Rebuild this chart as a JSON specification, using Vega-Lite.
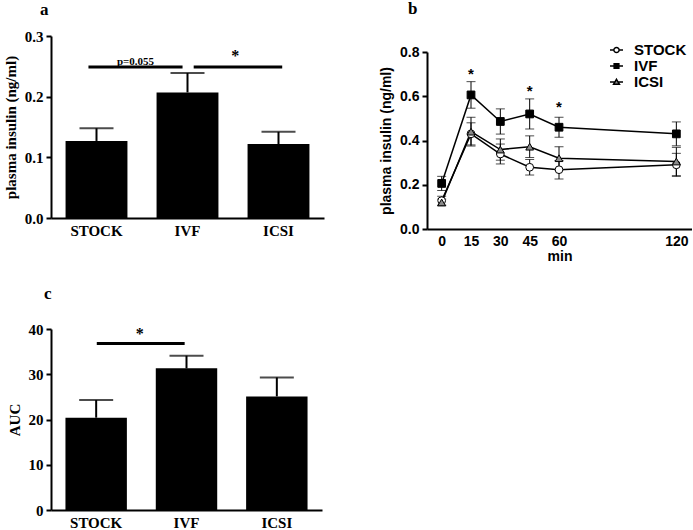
{
  "$schema": "https://vega.github.io/schema/vega-lite/v6.json",
  "padding": {"left": 3, "top": 0, "right": 0, "bottom": 0},
  "background": "white",
  "columns": 2,
  "align": "none",
  "spacing": {"row": 22, "column": 55},
  "resolve": {"legend": {"shape": "independent", "fill": "independent", "stroke": "independent"}},
  "config": {
    "view": {"stroke": null},
    "axis": {"domainColor": "black", "tickColor": "black", "labelColor": "black", "titleColor": "black", "grid": false}
  },
  "concat": [
    {
      "width": 273,
      "height": 182,
      "title": {"text": "a", "anchor": "start", "frame": "group", "font": "Liberation Serif", "fontSize": 17, "fontWeight": "bold", "color": "black", "dx": -11, "offset": 10},
      "layer": [
        {
          "data": {"values": [
            {"group": "STOCK", "mean": 0.127, "hi": 0.148},
            {"group": "IVF", "mean": 0.207, "hi": 0.239},
            {"group": "ICSI", "mean": 0.122, "hi": 0.142}
          ]},
          "layer": [
            {"mark": {"type": "bar", "color": "black"},
             "encoding": {
               "x": {"field": "group", "type": "nominal", "scale": {"domain": ["STOCK", "IVF", "ICSI"], "paddingInner": 0.32, "paddingOuter": 0.16},
                     "axis": {"title": null, "labelAngle": 0, "labelBaseline": "top", "labelAlign": "center", "ticks": false, "labelPadding": 5, "labelFont": "Liberation Serif", "labelFontSize": 15, "labelFontWeight": "bold", "domainWidth": 2}},
               "y": {"field": "mean", "type": "quantitative", "scale": {"domain": [0, 0.3], "nice": false},
                     "axis": {"title": "plasma insulin (ng/ml)", "values": [0, 0.1, 0.2, 0.3], "format": ".1f", "labelFont": "Liberation Serif", "labelFontSize": 15, "labelFontWeight": "bold", "titleFont": "Liberation Serif", "titleFontSize": 15, "titleFontWeight": "bold", "domainWidth": 2, "tickWidth": 2, "tickSize": 5, "labelPadding": 3, "titlePadding": 6}}
             }},
            {"mark": {"type": "rule", "color": "black", "strokeWidth": 2},
             "encoding": {"x": {"field": "group", "type": "nominal"}, "y": {"field": "mean", "type": "quantitative"}, "y2": {"field": "hi"}}},
            {"mark": {"type": "tick", "color": "black", "thickness": 2, "size": 34},
             "encoding": {"x": {"field": "group", "type": "nominal"}, "y": {"field": "hi", "type": "quantitative"}}}
          ]
        },
        {
          "data": {"values": [{"from": "STOCK", "to": "IVF", "y": 0.249}]},
          "mark": {"type": "rule", "color": "black", "strokeWidth": 3},
          "encoding": {"x": {"field": "from", "type": "nominal", "bandPosition": 0.37}, "x2": {"field": "to", "bandPosition": 0.42}, "y": {"field": "y", "type": "quantitative"}}
        },
        {
          "data": {"values": [{"from": "IVF", "to": "ICSI", "y": 0.249}]},
          "mark": {"type": "rule", "color": "black", "strokeWidth": 3},
          "encoding": {"x": {"field": "from", "type": "nominal", "bandPosition": 0.6}, "x2": {"field": "to", "bandPosition": 0.56}, "y": {"field": "y", "type": "quantitative"}}
        },
        {
          "data": {"values": [{"at": "STOCK", "y": 0.253, "label": "p=0.055"}]},
          "mark": {"type": "text", "font": "Liberation Serif", "fontSize": 11, "fontWeight": "bold", "color": "black", "baseline": "alphabetic"},
          "encoding": {"x": {"field": "at", "type": "nominal", "bandPosition": 1.13}, "y": {"field": "y", "type": "quantitative"}, "text": {"field": "label"}}
        },
        {
          "data": {"values": [{"at": "IVF", "y": 0.258, "label": "*"}]},
          "mark": {"type": "text", "font": "Liberation Serif", "fontSize": 16, "fontWeight": "bold", "color": "black", "baseline": "alphabetic"},
          "encoding": {"x": {"field": "at", "type": "nominal", "bandPosition": 1.27}, "y": {"field": "y", "type": "quantitative"}, "text": {"field": "label"}}
        }
      ]
    },
    {
      "width": 265,
      "height": 193,
      "title": {"text": "b", "anchor": "start", "frame": "group", "font": "Liberation Serif", "fontSize": 17, "fontWeight": "bold", "color": "black", "dx": -19, "offset": 18},
      "layer": [
        {
          "data": {"values": [
            {"group": "STOCK", "min": 0, "mean": 0.128, "lo": 0.108, "hi": 0.148},
            {"group": "STOCK", "min": 15, "mean": 0.43, "lo": 0.38, "hi": 0.48},
            {"group": "STOCK", "min": 30, "mean": 0.339, "lo": 0.294, "hi": 0.384},
            {"group": "STOCK", "min": 45, "mean": 0.279, "lo": 0.244, "hi": 0.314},
            {"group": "STOCK", "min": 60, "mean": 0.268, "lo": 0.226, "hi": 0.31},
            {"group": "STOCK", "min": 120, "mean": 0.29, "lo": 0.238, "hi": 0.342},
            {"group": "IVF", "min": 0, "mean": 0.206, "lo": 0.174, "hi": 0.238},
            {"group": "IVF", "min": 15, "mean": 0.606, "lo": 0.546, "hi": 0.666},
            {"group": "IVF", "min": 30, "mean": 0.486, "lo": 0.429, "hi": 0.543},
            {"group": "IVF", "min": 45, "mean": 0.52, "lo": 0.452, "hi": 0.588},
            {"group": "IVF", "min": 60, "mean": 0.46, "lo": 0.415, "hi": 0.505},
            {"group": "IVF", "min": 120, "mean": 0.43, "lo": 0.376, "hi": 0.484},
            {"group": "ICSI", "min": 0, "mean": 0.12, "lo": 0.105, "hi": 0.135},
            {"group": "ICSI", "min": 15, "mean": 0.44, "lo": 0.375, "hi": 0.505},
            {"group": "ICSI", "min": 30, "mean": 0.359, "lo": 0.311, "hi": 0.407},
            {"group": "ICSI", "min": 45, "mean": 0.372, "lo": 0.323, "hi": 0.421},
            {"group": "ICSI", "min": 60, "mean": 0.32, "lo": 0.268, "hi": 0.372},
            {"group": "ICSI", "min": 120, "mean": 0.305, "lo": 0.241, "hi": 0.369}
          ]},
          "layer": [
            {"mark": {"type": "line", "color": "black", "strokeWidth": 1.5},
             "encoding": {
               "x": {"field": "min", "type": "quantitative", "scale": {"domain": [-7.5, 128], "nice": false, "zero": false},
                     "axis": {"title": "min", "values": [0, 15, 30, 45, 60, 120], "ticks": false, "labelPadding": 5, "labelFont": "Liberation Sans", "labelFontSize": 14, "labelFontWeight": "bold", "titleFont": "Liberation Sans", "titleFontSize": 14, "titleFontWeight": "bold", "titlePadding": 1, "domainWidth": 2}},
               "y": {"field": "mean", "type": "quantitative", "scale": {"domain": [0, 0.8], "nice": false, "range": [193, 16]},
                     "axis": {"title": "plasma insulin (ng/ml)", "values": [0, 0.2, 0.4, 0.6, 0.8], "format": ".1f", "labelFont": "Liberation Sans", "labelFontSize": 14, "labelFontWeight": "bold", "titleFont": "Liberation Sans", "titleFontSize": 14, "titleFontWeight": "bold", "domainWidth": 2, "tickWidth": 2, "tickSize": 5, "labelPadding": 3, "titlePadding": 6}},
               "detail": {"field": "group"}
             }},
            {"mark": {"type": "rule", "color": "black", "strokeWidth": 1},
             "encoding": {"x": {"field": "min", "type": "quantitative"}, "y": {"field": "lo", "type": "quantitative"}, "y2": {"field": "hi"}}},
            {"mark": {"type": "tick", "orient": "horizontal", "color": "black", "thickness": 1, "size": 9},
             "encoding": {"x": {"field": "min", "type": "quantitative"}, "y": {"field": "lo", "type": "quantitative"}}},
            {"mark": {"type": "tick", "orient": "horizontal", "color": "black", "thickness": 1, "size": 9},
             "encoding": {"x": {"field": "min", "type": "quantitative"}, "y": {"field": "hi", "type": "quantitative"}}},
            {"transform": [{"filter": {"field": "group", "equal": "STOCK"}}],
             "mark": {"type": "point", "shape": "circle", "filled": true, "fill": "white", "stroke": "black", "strokeWidth": 1, "size": 60, "opacity": 1},
             "encoding": {"x": {"field": "min", "type": "quantitative"}, "y": {"field": "mean", "type": "quantitative"}}},
            {"transform": [{"filter": {"field": "group", "equal": "ICSI"}}],
             "mark": {"type": "point", "shape": "triangle-up", "filled": true, "fill": "#8a8a8a", "stroke": "black", "strokeWidth": 1, "size": 60, "opacity": 1},
             "encoding": {"x": {"field": "min", "type": "quantitative"}, "y": {"field": "mean", "type": "quantitative"}}},
            {"transform": [{"filter": {"field": "group", "equal": "IVF"}}],
             "mark": {"type": "point", "shape": "square", "filled": true, "fill": "black", "stroke": "black", "strokeWidth": 1, "size": 60, "opacity": 1},
             "encoding": {"x": {"field": "min", "type": "quantitative"}, "y": {"field": "mean", "type": "quantitative"}}},
            {"mark": {"type": "point", "filled": true, "strokeWidth": 1.5, "opacity": 0},
             "encoding": {
               "x": {"field": "min", "type": "quantitative"},
               "y": {"field": "mean", "type": "quantitative"},
               "shape": {"field": "group", "type": "nominal",
                         "scale": {"domain": ["STOCK", "IVF", "ICSI"], "range": [
                           "M-1,0H-0.4M0.4,0H1M-0.4,0A0.4,0.4,0,1,1,0.4,0A0.4,0.4,0,1,1,-0.4,0Z",
                           "M-1,0H-0.36M0.36,0H1M-0.36,-0.36H0.36V0.36H-0.36Z",
                           "M-1,0H-0.25M0.25,0H1M0,-0.42L0.45,0.36H-0.45Z"]},
                         "legend": {"orient": "none", "legendX": 182, "legendY": 6, "title": null, "labelFont": "Liberation Sans", "labelFontSize": 15, "labelFontWeight": "bold", "labelColor": "black", "symbolSize": 170, "symbolStrokeWidth": 1.5, "symbolOpacity": 1, "rowPadding": 0, "clipHeight": 16, "padding": 0, "labelOffset": 10}},
               "fill": {"field": "group", "type": "nominal", "scale": {"domain": ["STOCK", "IVF", "ICSI"], "range": ["white", "black", "#8a8a8a"]},
                        "legend": {"orient": "none", "legendX": 182, "legendY": 6, "title": null, "labelFont": "Liberation Sans", "labelFontSize": 15, "labelFontWeight": "bold", "labelColor": "black", "symbolSize": 170, "symbolStrokeWidth": 1.5, "symbolOpacity": 1, "rowPadding": 0, "clipHeight": 16, "padding": 0, "labelOffset": 10}},
               "stroke": {"field": "group", "type": "nominal", "scale": {"domain": ["STOCK", "IVF", "ICSI"], "range": ["black", "black", "black"]},
                          "legend": {"orient": "none", "legendX": 182, "legendY": 6, "title": null, "labelFont": "Liberation Sans", "labelFontSize": 15, "labelFontWeight": "bold", "labelColor": "black", "symbolSize": 170, "symbolStrokeWidth": 1.5, "symbolOpacity": 1, "rowPadding": 0, "clipHeight": 16, "padding": 0, "labelOffset": 10}}
             }}
          ]
        },
        {
          "data": {"values": [{"min": 15, "y": 0.68}, {"min": 45, "y": 0.602}, {"min": 60, "y": 0.529}]},
          "mark": {"type": "text", "font": "Liberation Sans", "fontSize": 15, "fontWeight": "bold", "color": "black", "baseline": "alphabetic", "text": "*"},
          "encoding": {"x": {"field": "min", "type": "quantitative"}, "y": {"field": "y", "type": "quantitative"}}
        }
      ]
    },
    {
      "width": 271,
      "height": 181,
      "title": {"text": "c", "anchor": "start", "frame": "group", "font": "Liberation Serif", "fontSize": 17, "fontWeight": "bold", "color": "black", "dx": -7, "offset": 19},
      "layer": [
        {
          "data": {"values": [
            {"group": "STOCK", "mean": 20.4, "hi": 24.3},
            {"group": "IVF", "mean": 31.3, "hi": 34.1},
            {"group": "ICSI", "mean": 25.1, "hi": 29.3}
          ]},
          "layer": [
            {"mark": {"type": "bar", "color": "black"},
             "encoding": {
               "x": {"field": "group", "type": "nominal", "scale": {"domain": ["STOCK", "IVF", "ICSI"], "paddingInner": 0.32, "paddingOuter": 0.16},
                     "axis": {"title": null, "labelAngle": 0, "labelBaseline": "top", "labelAlign": "center", "ticks": false, "labelPadding": 5, "labelFont": "Liberation Serif", "labelFontSize": 15, "labelFontWeight": "bold", "domainWidth": 2}},
               "y": {"field": "mean", "type": "quantitative", "scale": {"domain": [0, 40], "nice": false},
                     "axis": {"title": "AUC", "values": [0, 10, 20, 30, 40], "labelFont": "Liberation Serif", "labelFontSize": 15, "labelFontWeight": "bold", "titleFont": "Liberation Serif", "titleFontSize": 15, "titleFontWeight": "bold", "domainWidth": 2, "tickWidth": 2, "tickSize": 5, "labelPadding": 3, "titlePadding": 6}}
             }},
            {"mark": {"type": "rule", "color": "black", "strokeWidth": 2},
             "encoding": {"x": {"field": "group", "type": "nominal"}, "y": {"field": "mean", "type": "quantitative"}, "y2": {"field": "hi"}}},
            {"mark": {"type": "tick", "color": "black", "thickness": 2, "size": 34},
             "encoding": {"x": {"field": "group", "type": "nominal"}, "y": {"field": "hi", "type": "quantitative"}}}
          ]
        },
        {
          "data": {"values": [{"from": "STOCK", "to": "IVF", "y": 36.8}]},
          "mark": {"type": "rule", "color": "black", "strokeWidth": 3},
          "encoding": {"x": {"field": "from", "type": "nominal", "bandPosition": 0.51}, "x2": {"field": "to", "bandPosition": 0.47}, "y": {"field": "y", "type": "quantitative"}}
        },
        {
          "data": {"values": [{"at": "STOCK", "y": 37.8, "label": "*"}]},
          "mark": {"type": "text", "font": "Liberation Serif", "fontSize": 16, "fontWeight": "bold", "color": "black", "baseline": "alphabetic"},
          "encoding": {"x": {"field": "at", "type": "nominal", "bandPosition": 1.21}, "y": {"field": "y", "type": "quantitative"}, "text": {"field": "label"}}
        }
      ]
    }
  ]
}
